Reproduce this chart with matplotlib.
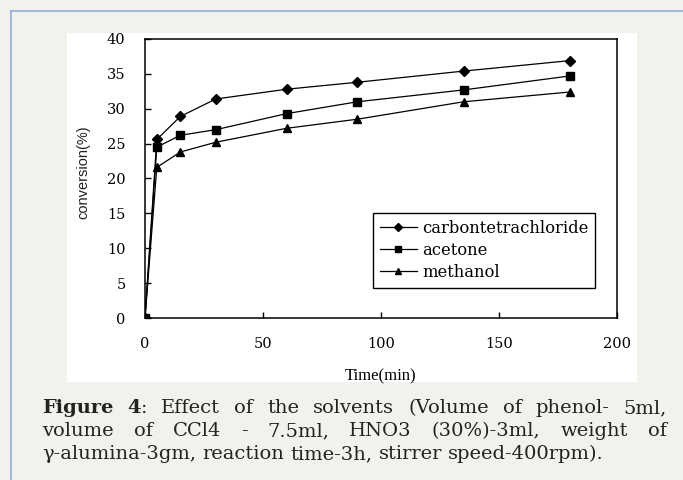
import matplotlib
matplotlib.use('Agg')
import matplotlib.pyplot as plt
from matplotlib.patches import Rectangle
from matplotlib.lines import Line2D

# data
time_min = [0, 5, 15, 30, 60, 90, 135, 180]
ccl4 = [0, 25.6, 28.9, 31.4, 32.8, 33.8, 35.4, 36.9]
acetone = [0, 24.5, 26.2, 27.0, 29.3, 31.0, 32.7, 34.7]
methanol = [0, 21.6, 23.8, 25.2, 27.2, 28.5, 31.0, 32.4]
series_names = ['carbontetrachloride', 'acetone', 'methanol']
x_ticks = [0, 50, 100, 150, 200]
y_ticks = [0, 5, 10, 15, 20, 25, 30, 35, 40]

caption_lines = [
    [[('Figure', 'bold')], [('4', 'bold'), (':', 'normal')], 'Effect', 'of', 'the', 'solvents',
     '(Volume', 'of', 'phenol-', '5ml,'],
    ['volume', 'of', 'CCl4', '-', '7.5ml,', 'HNO3', '(30%)-3ml,', 'weight', 'of'],
    ['\u03b3-alumina-3gm,', 'reaction', 'time-3h,', 'stirrer', 'speed-400rpm).'],
]

W, H = 683, 480
fig = plt.figure(figsize=(W / 100, H / 100), dpi=100, facecolor='#f2f2ed')

# white panel behind the chart and the blue frame lines
fig.patches.append(Rectangle((67 / W, 1 - 382 / H), 570 / W, 349 / H, transform=fig.transFigure,
                             facecolor='white', edgecolor='none', zorder=-5))
fig.lines.append(Line2D([11 / W, 11 / W], [0, 1 - 10.5 / H], transform=fig.transFigure,
                        color='#8db4e3', lw=1.2, zorder=-5))
fig.lines.append(Line2D([11 / W, 1], [1 - 10.5 / H, 1 - 10.5 / H], transform=fig.transFigure,
                        color='#8db4e3', lw=1.2, zorder=-5))

ax = fig.add_axes([145 / W, 1 - 318 / H, (617 - 145) / W, (318 - 39) / H])
ax.set_facecolor('white')
ax.plot(time_min, ccl4, color='black', lw=0.9, marker='D', ms=5, label=series_names[0])
ax.plot(time_min, acetone, color='black', lw=0.9, marker='s', ms=5.5, label=series_names[1])
ax.plot(time_min, methanol, color='black', lw=0.9, marker='^', ms=6, label=series_names[2])

ax.set_xlim(0, 200)
ax.set_ylim(0, 40)
ax.set_xticks(x_ticks)
ax.set_yticks(y_ticks)
ax.tick_params(direction='in', length=4, width=1, labelsize=10.5, color='black')
ax.tick_params(axis='x', pad=14)
ax.tick_params(axis='y', pad=14)
for lab in ax.get_xticklabels() + ax.get_yticklabels():
    lab.set_family('DejaVu Serif')
for sp in ax.spines.values():
    sp.set_linewidth(1.1)

ax.set_xlabel('Time(min)', family='Liberation Serif', fontsize=12, labelpad=12)
fig.text(83 / W, 1 - 172 / H, 'conversion(%)', family='Liberation Sans', fontsize=10.5,
         rotation=90, ha='center', va='center', color='#222222')

ax.legend(loc='upper left', bbox_to_anchor=(373 / W, 1 - 213 / H), bbox_transform=fig.transFigure,
          frameon=True, fancybox=False, edgecolor='black', framealpha=1, borderaxespad=0,
          prop={'family': 'DejaVu Serif', 'size': 11.8}, handlelength=2.3, handletextpad=0.3,
          labelspacing=0.32, borderpad=0.4, markerscale=0.8)
ax.get_legend().get_frame().set_linewidth(1.0)

# justified caption, word by word
renderer = fig.canvas.get_renderer()
cap_size = 14


def seg_width(s, weight):
    t = fig.text(0, 0, s, fontsize=cap_size, family='DejaVu Serif', weight=weight)
    w = t.get_window_extent(renderer).width
    t.remove()
    return w


space_w = seg_width('a a', 'normal') - seg_width('aa', 'normal')
left_px, right_px = 42, 667
baselines = [413, 436, 459]
for li, words in enumerate(caption_lines):
    words = [[(w, 'normal')] if isinstance(w, str) else w for w in words]
    widths = [sum(seg_width(s, wt) for s, wt in w) for w in words]
    if li < len(caption_lines) - 1:
        gap = (right_px - left_px - sum(widths)) / (len(words) - 1)
    else:
        gap = space_w
    x = left_px
    for w, ww in zip(words, widths):
        xx = x
        for s, wt in w:
            fig.text(xx / W, 1 - baselines[li] / H, s, fontsize=cap_size, family='DejaVu Serif',
                     weight=wt, color='#222222', va='baseline')
            xx += seg_width(s, wt)
        x += ww + gap

fig.savefig('out.png', dpi=100, facecolor=fig.get_facecolor())
